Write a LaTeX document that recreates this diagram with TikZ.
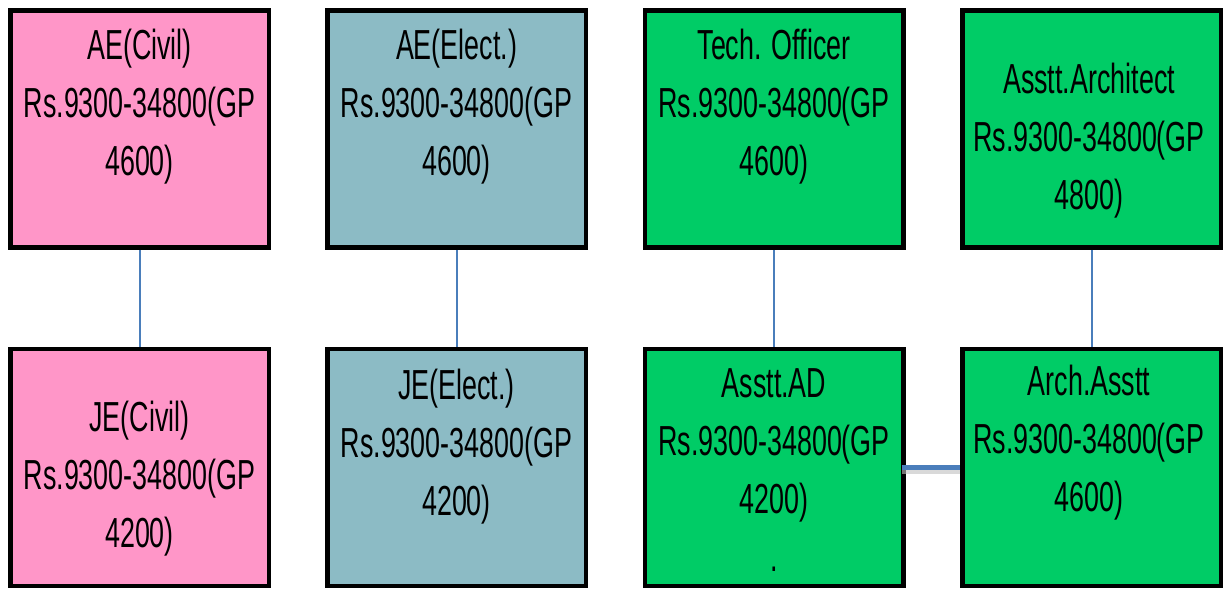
\documentclass[tikz,border=0pt]{standalone}
\usepackage{fontspec}
\setmainfont{Liberation Sans}[FakeStretch=0.64]
\definecolor{pinkbox}{RGB}{255,150,200}
\definecolor{bluebox}{RGB}{140,187,197}
\definecolor{greenbox}{RGB}{0,204,102}
\definecolor{conn}{RGB}{74,126,187}
\tikzset{
  post/.style={draw=black, line width=4.5pt, minimum width=258.5pt, minimum height=237pt, inner sep=0pt},
  lbl/.style={align=center, inner sep=0pt, font=\fontsize{42}{58}\selectfont},
  link/.style={draw=conn, line width=2pt},
  thicklink/.style={draw=conn, line width=4.5pt}
}
\begin{document}
\begin{tikzpicture}[x=1pt,y=-1pt]
\useasboundingbox (0,0) rectangle (1223,590);
% boxes
\node[post, fill=pinkbox]  (b1t) at (139.5,129) {};
\node[post, fill=bluebox]  (b2t) at (456.5,129) {};
\node[post, fill=greenbox] (b3t) at (774,129) {};
\node[post, fill=greenbox] (b4t) at (1091.5,129) {};
\node[post, fill=pinkbox]  (b1b) at (139.5,467.5) {};
\node[post, fill=bluebox]  (b2b) at (456.5,467.5) {};
\node[post, fill=greenbox] (b3b) at (774,467.5) {};
\node[post, fill=greenbox] (b4b) at (1091.5,467.5) {};
% labels
\node[lbl] (t1t) at (139.5,107) {AE(Civil)\\Rs.9300-34800(GP\\4600)};
\node[lbl] (t2t) at (456.5,107) {AE(Elect.)\\Rs.9300-34800(GP\\4600)};
\node[lbl] (t3t) at (774,107) {Tech. Officer\\Rs.9300-34800(GP\\4600)};
\node[lbl] (t4t) at (1089,141) {Asstt.Architect\\Rs.9300-34800(GP\\4800)};
\node[lbl] (t1b) at (139.5,479) {JE(Civil)\\Rs.9300-34800(GP\\4200)};
\node[lbl] (t2b) at (456.5,447) {JE(Elect.)\\Rs.9300-34800(GP\\4200)};
\node[lbl] (t3b) at (774,470.5) {Asstt.AD\\Rs.9300-34800(GP\\4200)\\.};
\node[lbl] (t4b) at (1089,443) {Arch.Asstt\\Rs.9300-34800(GP\\4600)};
% connectors
\draw[link] (b1t.south) -- (b1b.north);
\draw[link] (b2t.south) -- (b2b.north);
\draw[link] (b3t.south) -- (b3b.north);
\draw[link] (b4t.south) -- (b4b.north);
\draw[line width=5pt, black!25, opacity=0.6, transform canvas={yshift=-4pt}] ([xshift=-4pt]b3b.east) -- (b4b.west);
\draw[thicklink] ([xshift=-4pt]b3b.east) -- (b4b.west);
\end{tikzpicture}
\end{document}
